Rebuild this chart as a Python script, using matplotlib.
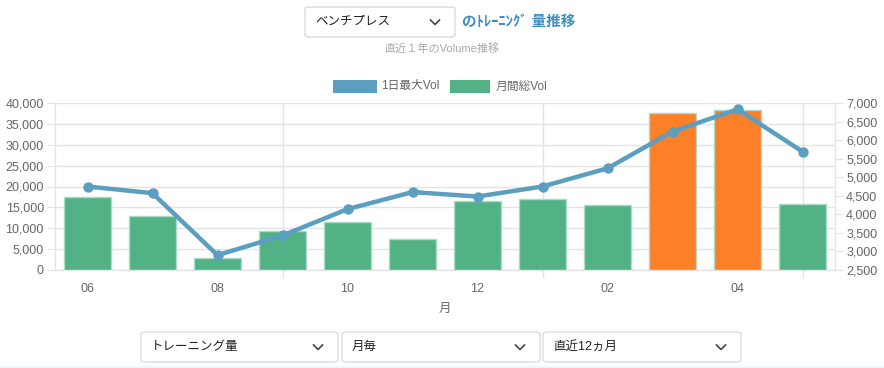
import numpy as np
import matplotlib.pyplot as plt
from matplotlib.patches import FancyBboxPatch, Rectangle
from matplotlib.lines import Line2D

plt.rcParams['font.family'] = ['Liberation Sans', 'Noto Sans CJK JP', 'DejaVu Sans']

# data
months = ['06', '07', '08', '09', '10', '11', '12', '01', '02', '03', '04', '05']
month_total_vol = [17500, 12900, 2900, 9300, 11400, 7350, 16600, 17000, 15500, 37700, 38250, 15700]
day_max_vol = [4750, 4570, 2900, 3430, 4140, 4600, 4480, 4750, 5240, 6230, 6830, 5690]
left_ticks = list(range(0, 40001, 5000))
right_ticks = list(range(2500, 7001, 500))

W, H = 884, 368
GREEN = '#53b285'
ORANGE = '#fd7f28'
BLUE = '#5b9ec0'
GRID = '#e3e3e3'
TXT = '#666666'


def fx(x):
    return x / W


def fy(y):
    return 1 - y / H


fig = plt.figure(figsize=(W / 100, H / 100), dpi=100)
ax = fig.add_axes([fx(55), fy(270), 780 / W, 167 / H])
ax2 = ax.twinx()

x = np.arange(len(months))
colors = [ORANGE if v > 30000 else GREEN for v in month_total_vol]
ax.bar(x, month_total_vol, width=0.72, color=colors, edgecolor='#a8dcc8', linewidth=1, zorder=2)
ax2.plot(x, day_max_vol, color=BLUE, lw=3.2, marker='o', ms=6.5, zorder=3, solid_capstyle='round')

ax.set_xlim(-0.5, len(months) - 0.5)
ax.set_ylim(0, 40000)
ax2.set_ylim(2500, 7000)

ax.set_yticks(left_ticks)
ax.set_yticklabels([f'{v:,}' for v in left_ticks])
ax2.set_yticks(right_ticks)
ax2.set_yticklabels([f'{v:,}' for v in right_ticks])

ax.set_xticks(x[::2])
ax.set_xticklabels(months[::2])
ax.set_xticks([3, 7, 11], minor=True)
ax.tick_params(axis='x', which='major', length=0, pad=9, labelsize=9, labelcolor=TXT)
ax.tick_params(axis='x', which='minor', length=6, color=GRID, width=1)
ax.tick_params(axis='y', length=6, color=GRID, labelsize=9, labelcolor=TXT, pad=2)
ax2.tick_params(axis='y', length=6, color=GRID, labelsize=9, labelcolor=TXT, pad=2)

ax.set_axisbelow(True)
ax.grid(axis='y', color=GRID, lw=1)
ax.grid(axis='x', which='minor', color=GRID, lw=1)

for a in (ax, ax2):
    for s in a.spines.values():
        s.set_color(GRID)
    a.spines['top'].set_visible(False)
ax.spines['bottom'].set_color('#cccccc')

ax.set_xlabel('月', color=TXT, fontsize=9, labelpad=6)

# legend
fig.patches.append(Rectangle((fx(333), fy(93)), 44 / W, 13 / H, transform=fig.transFigure,
                             facecolor=BLUE, edgecolor='none'))
fig.text(fx(381), fy(86.5), '1日最大Vol', color=TXT, fontsize=8.5, va='center', ha='left')
fig.patches.append(Rectangle((fx(450), fy(93)), 40 / W, 13 / H, transform=fig.transFigure,
                             facecolor=GREEN, edgecolor='none'))
fig.text(fx(496), fy(86.5), '月間総Vol', color=TXT, fontsize=8.5, va='center', ha='left')


def dropdown(x0, y0, x1, y1, label, size=9):
    box = FancyBboxPatch((fx(x0), fy(y1)), (x1 - x0) / W, (y1 - y0) / H,
                         boxstyle='round,pad=0,rounding_size=0.006',
                         transform=fig.transFigure, facecolor='white',
                         edgecolor='#d9dde1', lw=1)
    fig.patches.append(box)
    yc = (y0 + y1) / 2
    fig.text(fx(x0 + 10), fy(yc), label, color='#222222', fontsize=size, va='center', ha='left')
    cx = x1 - 20
    fig.lines.append(Line2D([fx(cx - 4.5), fx(cx), fx(cx + 4.5)], [fy(yc - 2), fy(yc + 2.5), fy(yc - 2)],
                            transform=fig.transFigure, color='#444444', lw=1.2))


# header
dropdown(305, 7, 455, 37, 'ベンチプレス')
fig.text(fx(462), fy(22), 'のﾄﾚｰﾆﾝｸﾞ 量推移', color='#3d8ebf', fontsize=10.5,
         fontweight='bold', va='center', ha='left')
fig.text(fx(442), fy(48), '直近１年のVolume推移', color='#a8a8a8', fontsize=8, va='center', ha='center')

# footer controls
dropdown(141, 332, 338, 362, 'トレーニング量')
dropdown(342, 332, 540, 362, '月毎')
dropdown(543, 332, 741, 362, '直近12ヵ月')
fig.lines.append(Line2D([0, 1], [fy(366.5), fy(366.5)], transform=fig.transFigure, color='#eef4fb', lw=2))

fig.savefig('out.png', dpi=100)
